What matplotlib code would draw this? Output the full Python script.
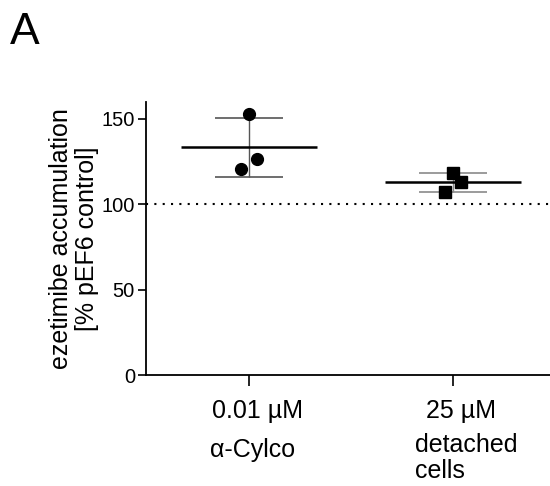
import matplotlib
matplotlib.use("Agg")
import matplotlib.pyplot as plt
from matplotlib.transforms import ScaledTranslation
import numpy as np

plt.rcParams["font.family"] = ["Liberation Sans", "DejaVu Sans"]

# dados (% do controle pEF6)
doses = ["0.01 µM", "25 µM"]
grupos = ["α-Cylco", "detached\ncells"]
alfa_cylco = [152.9, 126.5, 120.6]
detached = [118.4, 113.3, 107.2]
valores = [alfa_cylco, detached]
controle = 100

# pequeno deslocamento horizontal dos pontos (scatter)
jitter = [0.0, 0.04, -0.04]
marcadores = ["o", "s"]
cor_barra = ["#555555", "#8a8a8a"]

fig = plt.figure(figsize=(5.5, 4.86), dpi=100)
ax = fig.add_axes([0.2655, 0.2274, 0.7345, 0.5633])

for i, vals in enumerate(valores):
    vals = np.array(vals)
    media = vals.mean()
    dp = vals.std(ddof=1)
    # barra de erro (desvio padrão)
    ax.errorbar(i, media, yerr=dp, fmt="none", ecolor=cor_barra[i],
                elinewidth=1.0, capsize=24.5, capthick=1.2, zorder=2)
    # linha da média
    ax.hlines(media, i - 0.333, i + 0.333, color="black", lw=1.8, zorder=3)
    xs = i + np.array(jitter)
    ax.plot(xs, vals, marcadores[i], color="black", ms=8.5, ls="none", zorder=4)

ax.axhline(controle, color="black", lw=1.5, ls=(0, (1, 3)), zorder=1)

ax.set_xlim(-0.505, 1.475)
ax.set_ylim(0, 160)
ax.set_yticks([0, 50, 100, 150])
ax.set_xticks([0, 1])
ax.set_xticklabels(doses, fontsize=18)
ax.tick_params(axis="y", labelsize=14.5, length=6, width=1.2, pad=2)
ax.tick_params(axis="x", length=8, width=1.2, pad=9)
# os rótulos das doses ficam um pouco à direita dos ticks
for rot in ax.get_xticklabels():
    rot.set_transform(rot.get_transform() + ScaledTranslation(6 / 72, 0, fig.dpi_scale_trans))

for lado in ["top", "right"]:
    ax.spines[lado].set_visible(False)
for lado in ["left", "bottom"]:
    ax.spines[lado].set_linewidth(1.3)

ax.set_ylabel("ezetimibe accumulation\n[% pEF6 control]", fontsize=18,
              linespacing=1.12, labelpad=1.5)

# nomes dos grupos abaixo das doses
trans = ax.get_xaxis_transform()
ax.text(-0.191, -0.274, grupos[0], transform=trans, fontsize=18,
        ha="left", va="center")
ax.text(0.814, -0.302, grupos[1], transform=trans, fontsize=18,
        ha="left", va="center", linespacing=1.12)

fig.text(0.018, 0.975, "A", fontsize=32, ha="left", va="top")

plt.savefig("out.png", dpi=100)
